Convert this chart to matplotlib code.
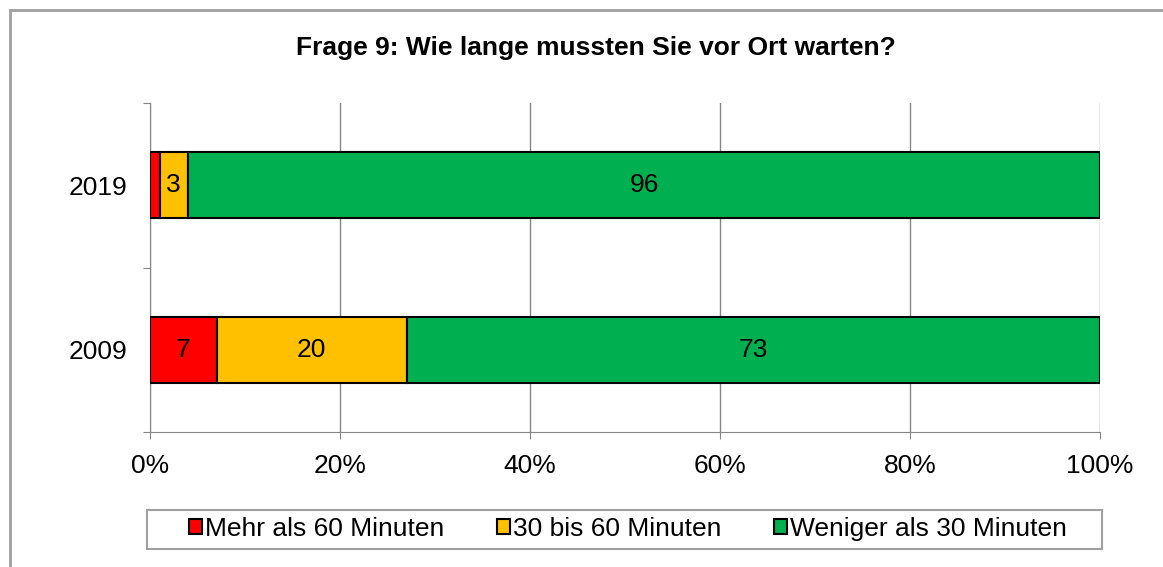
import matplotlib.pyplot as plt
from matplotlib.patches import Rectangle

plt.rcParams['font.family'] = ['Liberation Sans', 'DejaVu Sans']

years = ['2009', '2019']
series = ['Mehr als 60 Minuten', '30 bis 60 Minuten', 'Weniger als 30 Minuten']
values = {
    'Mehr als 60 Minuten': [7, 1],
    '30 bis 60 Minuten': [20, 3],
    'Weniger als 30 Minuten': [73, 96],
}
colors = ['#ff0000', '#ffc000', '#00b050']

fig = plt.figure(figsize=(11.63, 5.67), dpi=100)
ax = fig.add_axes([150 / 1163, 1 - 432 / 567, 950 / 1163, 329 / 567])

pos = range(len(years))
left = [0] * len(years)
handles = []
for name, col in zip(series, colors):
    vals = values[name]
    bars = ax.barh(pos, vals, left=left, height=0.4, color=col,
                   edgecolor='black', linewidth=1.5, label=name, zorder=3)
    labels = [str(v) if v >= 3 else '' for v in vals]
    ax.bar_label(bars, labels=labels, label_type='center', fontsize=19)
    handles.append(bars)
    left = [a + b for a, b in zip(left, vals)]

ax.set_xlim(0, 100)
ax.set_ylim(-0.5, 1.5)
ax.set_xticks(range(0, 101, 20))
ax.set_xticklabels([f'{t}%' for t in range(0, 101, 20)], fontsize=19)
ax.set_yticks([-0.5, 0.5, 1.5])
ax.set_yticklabels([])
ax.set_yticks(list(pos), minor=True)
ax.set_yticklabels(years, minor=True, fontsize=19)
ax.tick_params(axis='y', which='minor', length=0, pad=16)
ax.tick_params(axis='y', which='major', length=5, color='#868686')
ax.tick_params(axis='x', length=5, color='#868686', pad=11)
ax.grid(axis='x', color='#868686', linewidth=1, zorder=0)
for s in ['top', 'right']:
    ax.spines[s].set_visible(False)
for s in ['left', 'bottom']:
    ax.spines[s].set_color('#868686')

fig.text(596 / 1163, 1 - 48 / 567, 'Frage 9: Wie lange mussten Sie vor Ort warten?',
         ha='center', va='center', fontsize=19, fontweight='bold')
fig.text(8 / 1163, 1 + 10 / 567, 'Grafik 10', ha='left', va='center', fontsize=19)

# outer chart frame
fig.patches.append(Rectangle((10 / 1163, -0.05), 1.2, 1 - 10 / 567 + 0.05,
                             transform=fig.transFigure, fill=False,
                             edgecolor='#a0a0a0', linewidth=2))
# legend frame
fig.patches.append(Rectangle((147 / 1163, 1 - 549 / 567), 955 / 1163, 39 / 567,
                             transform=fig.transFigure, fill=False,
                             edgecolor='#a0a0a0', linewidth=1.5))
fig.legend(handles=handles, loc='center', bbox_to_anchor=(628 / 1163, 1 - 529 / 567),
           ncol=3, frameon=False, fontsize=19, handlelength=0.5, handleheight=0.5,
           handletextpad=0.1, columnspacing=2.0)

fig.savefig('out.png', dpi=100)
